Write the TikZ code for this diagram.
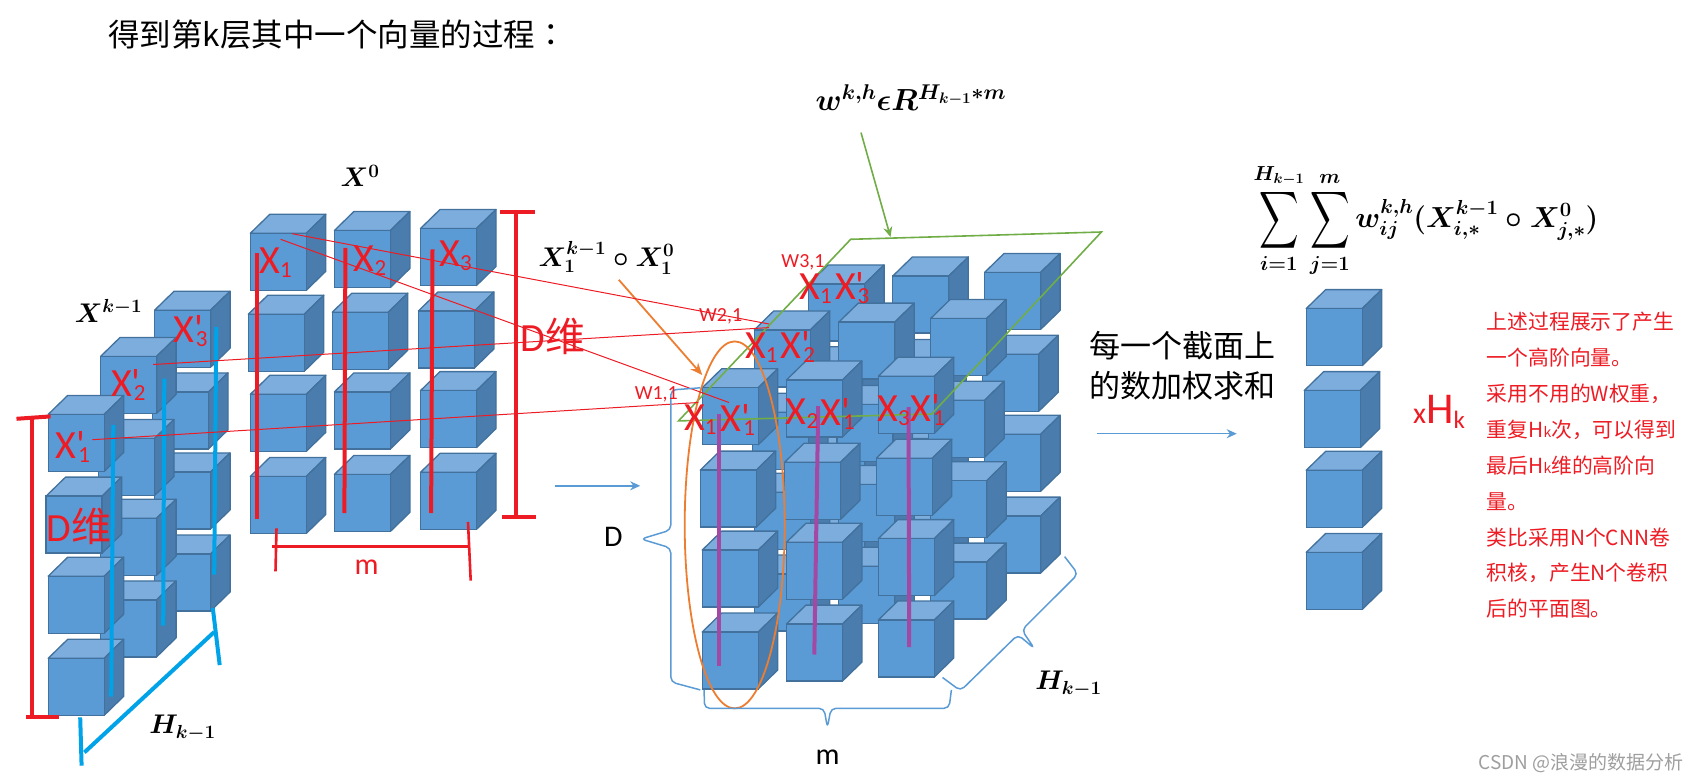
\documentclass[tikz,border=0pt]{standalone}
\usepackage{fix-cm}
\usepackage{amsmath}
\usepackage{graphicx}
\usepackage[no-math]{fontspec}
\setmainfont{Carlito}[Ligatures=TeXOff]
\newfontfamily\cjk{Noto Sans CJK SC}
\newfontfamily\cjktc{Noto Sans CJK TC}
\usepackage{xcolor}
\usepackage{tikz}
\usetikzlibrary{shapes.geometric, arrows.meta}
\definecolor{cubefront}{RGB}{91,155,213}
\definecolor{cubetop}{RGB}{124,173,221}
\definecolor{cubeside}{RGB}{74,125,174}
\definecolor{cubeedge}{RGB}{65,113,156}
\definecolor{markred}{RGB}{237,28,36}
\definecolor{markblue}{RGB}{0,162,232}
\definecolor{markpurple}{RGB}{163,73,164}
\definecolor{leafgreen}{RGB}{112,173,71}
\definecolor{carrot}{RGB}{237,125,49}
\newcommand{\sz}[1]{\fontsize{#1}{#1}\selectfont}
\newcommand{\subs}[1]{\raisebox{-4pt}{\sz{23}#1}}
\newcommand{\primed}[1]{'\kern-7pt\subs{#1}}
\newcommand{\bigsum}{\mathop{\vcenter{\hbox{\scalebox{1.1}[1.6]{$\displaystyle\sum$}}}}\limits}

\begin{document}
\begin{tikzpicture}[
  x=1pt, y=-1pt,
  cube/.style={rectangle, draw=cubeedge, line width=1.3pt, fill=cubefront, anchor=north west, inner sep=0pt, outer sep=0pt,
    minimum width=56pt, minimum height=57pt,
    append after command={\pgfextra{
      \draw[cubeedge, line width=1.3pt, line join=round, fill=cubetop] (\tikzlastnode.north west) -- ++(19.5,-19) -- ++(56,0) -- (\tikzlastnode.north east) -- cycle;
      \draw[cubeedge, line width=1.3pt, line join=round, fill=cubeside] (\tikzlastnode.north east) -- ++(19.5,-19) -- ++(0,57) -- (\tikzlastnode.south east) -- cycle;
    }}},
  redbar/.style={markred, line width=4pt},
  redtick/.style={markred, line width=2.6pt},
  bluebar/.style={markblue, line width=4pt},
  purplebar/.style={markpurple, line width=4pt},
  thinred/.style={markred, line width=1pt},
  brace/.style={cubefront, line width=1.5pt, rounded corners=5pt},
  arrow/.style={-{Stealth[length=10pt,width=9pt]}, cubefront, line width=1.5pt},
  math/.style={inner sep=0pt, text=black, font=\sz{27}\boldmath},
  xlabel/.style={inner sep=0pt, text=markred, font=\sz{40}},
  wlabel/.style={inner sep=0pt, text=markred, font=\sz{20}},
  note/.style={inner sep=0pt, anchor=north west, text=markred, align=left, font=\cjk\fontsize{20.8}{35.9}\selectfont}
]
\useasboundingbox (0,0) rectangle (1699,781);

% Title
\node[inner sep=0pt, anchor=west, font=\cjk\sz{31.5}] (title) at (108,35) {得到第k层其中一个向量的过程{\cjktc ：}};

% Previous layer, back to front
\node[cube] (pc1) at (154.6,310.2) {};
\node[cube] (pc2) at (152.5,391.9) {};
\node[cube] (pc3) at (154.6,471.9) {};
\node[cube] (pc4) at (154.6,554) {};
\node[cube] (pb1) at (100.6,356.4) {};
\node[cube] (pb2) at (98.5,438.5) {};
\node[cube] (pb3) at (100.6,518.2) {};
\node[cube] (pb4) at (100.6,599.9) {};
\node[cube] (pa1) at (48.2,414.4) {};
\node[cube] (pa2) at (46.1,496.1) {};
\node[cube] (pa3) at (48.2,576.2) {};
\node[cube] (pa4) at (48.2,658.3) {};

% Input layer
\node[cube] (xa1) at (250.3,233.3) {};
\node[cube] (xa2) at (248.3,314.2) {};
\node[cube] (xa3) at (250.3,394.3) {};
\node[cube] (xa4) at (250.3,476.4) {};
\node[cube] (xb1) at (334.4,230.5) {};
\node[cube] (xb2) at (332.3,312.2) {};
\node[cube] (xb3) at (334.4,391.9) {};
\node[cube] (xb4) at (334.4,474.4) {};
\node[cube] (xc1) at (420.5,228.5) {};
\node[cube] (xc2) at (418.4,311) {};
\node[cube] (xc3) at (420.5,390.6) {};
\node[cube] (xc4) at (420.5,472.3) {};

% Middle block, back slice
\node[cube] (ta1) at (808.6,283.9) {};
\node[cube] (ta2) at (806.6,365.8) {};
\node[cube] (ta3) at (808.6,445.9) {};
\node[cube] (ta4) at (808.6,527.6) {};
\node[cube] (tb1) at (892.8,276) {};
\node[cube] (tb2) at (890.8,358.4) {};
\node[cube] (tb3) at (892.8,438.4) {};
\node[cube] (tb4) at (892.8,520.2) {};
\node[cube] (tc1) at (984.6,272.4) {};
\node[cube] (tc2) at (982.7,354.3) {};
\node[cube] (tc3) at (984.6,434.3) {};
\node[cube] (tc4) at (984.6,516.1) {};

% Middle block, centre slice
\node[cube] (sa1) at (754.3,329.9) {};
\node[cube] (sa2) at (752.4,412.2) {};
\node[cube] (sa3) at (754.3,492.2) {};
\node[cube] (sa4) at (754.3,574) {};
\node[cube] (sb1) at (838.8,322.1) {};
\node[cube] (sb2) at (836.9,404.4) {};
\node[cube] (sb3) at (838.8,484.4) {};
\node[cube] (sb4) at (838.8,566.2) {};
\node[cube] (sc1) at (930.7,318.4) {};
\node[cube] (sc2) at (928.7,400.2) {};
\node[cube] (sc3) at (930.7,480.7) {};
\node[cube] (sc4) at (930.7,562.1) {};

% Middle block, front slice
\node[cube] (fa1) at (702.2,387.8) {};
\node[cube] (fa2) at (700.3,470.1) {};
\node[cube] (fa3) at (702.2,550.1) {};
\node[cube] (fa4) at (702.2,632) {};
\node[cube] (fb1) at (786.4,380) {};
\node[cube] (fb2) at (784.5,462.3) {};
\node[cube] (fb3) at (786.4,542.3) {};
\node[cube] (fb4) at (786.4,624.1) {};
\node[cube] (fc1) at (878.3,376.3) {};
\node[cube] (fc2) at (876.3,458.2) {};
\node[cube] (fc3) at (878.3,538.6) {};
\node[cube] (fc4) at (878.3,620) {};

% Output vector
\node[cube] (out1) at (1306.2,308.6) {};
\node[cube] (out2) at (1304.2,390.6) {};
\node[cube] (out3) at (1306.2,470.3) {};
\node[cube] (out4) at (1306.2,552.4) {};

% Red marks on the input layer
\draw[redbar] (256.5,252.6) -- (256.5,519.4);
\draw[redbar] (345.4,247.8) -- (344.4,513);
\draw[redbar] (432.5,249.4) -- (431.1,513);
\coordinate (dtop) at (515.5,212.4);
\coordinate (dbot) at (515.5,517);
\draw[redbar] (dtop) -- (dbot);
\draw[redbar] (500,212.4) -- (534.8,212.4);
\draw[redbar] (502,517) -- (535.8,517);
\draw[redtick] (272,546.4) -- (469,546.4);
\draw[redtick] (276.5,528.3) -- (275.5,571.3);
\draw[redtick] (468,522) -- (470.7,580.6);
\node[text=markred, inner sep=0pt, font=\sz{30}] (minput) at (366.7,567) {m};

% Red marks on the previous layer
\draw[redbar] (32.2,415.6) -- (32.2,716.6);
\draw[redbar] (16.5,418.8) -- (50.6,416.4);
\draw[redbar] (25.8,717.4) -- (59.2,717.4);

% Blue marks on the previous layer
\draw[bluebar] (113.3,424.9) -- (111.2,696.5);
\draw[bluebar] (164.3,378.6) -- (163.2,625.7);
\draw[bluebar] (216.3,327) -- (214.2,574.5);
\draw[bluebar] (214.2,632) -- (84.4,752.4);
\draw[bluebar] (80.2,717.4) -- (81.6,765.7);
\draw[bluebar] (212.8,608) -- (219.7,665.1);

% Green plane and its arrow
\coordinate (pla) at (678.5,420.9);
\coordinate (plb) at (850.7,239.3);
\coordinate (plc) at (1101.4,232);
\coordinate (pld) at (931.8,414);
\draw[leafgreen, line width=1.6pt] (pla) -- (plb) -- (plc) -- (pld) -- cycle;
\coordinate (pltip) at (890.5,237);
\coordinate (plfrom) at (861,132.6);
\draw[-{Stealth[length=10pt,width=9pt]}, leafgreen, line width=1.6pt] (plfrom) -- (pltip);

% Orange ellipse and its arrow
\node[draw=carrot, line width=1.8pt, ellipse, minimum width=100pt, minimum height=367pt, inner sep=0pt] (slice) at (734.7,524.9) {};
\coordinate (slfrom) at (618.8,279.8);
\coordinate (sltip) at (702.2,375);
\draw[-{Stealth[length=12pt,width=10pt]}, carrot, line width=1.8pt] (slfrom) -- (sltip);

% Purple marks on the front slice
\draw[purplebar] (719.4,414) -- (719.4,666);
\draw[purplebar] (818.2,406.2) -- (814.3,654.5);
\draw[purplebar] (908.5,407.1) -- (909.2,647);

% Thin red links
\coordinate (la) at (292,233.7);
\coordinate (lb) at (769,324);
\coordinate (lc) at (280.6,239.3);
\coordinate (ld) at (729,402.5);
\coordinate (le) at (153.2,364.5);
\coordinate (lf) at (769,327.6);
\coordinate (lg) at (92.3,439.7);
\coordinate (lh) at (698.4,402.5);
\draw[thinred] (la) -- (lb);
\draw[thinred] (lc) -- (ld);
\draw[thinred] (le) -- (lf);
\draw[thinred] (lg) -- (lh);

% Braces
\draw[brace] (700.3,387.8) -- (670.8,390) -- (670.8,530) -- (641,539) -- (670.8,548) -- (670.8,682) -- (700.3,689.9);
\draw[brace] (704.1,689.9) -- (704.5,708.3) -- (824,708.3) -- (827.4,727.6) -- (831,708.3) -- (949,708.3) -- (951.4,689.9);
\draw[brace] (942.5,677.5) -- (960.5,690.8) -- (1017.9,634.7) -- (1034.4,648.5) -- (1021.8,630) -- (1078,574) -- (1064.6,556.6);

% Blue arrows
\coordinate (ara) at (554.9,485.8);
\coordinate (arb) at (640.2,485.8);
\coordinate (arc) at (1097,433.7);
\coordinate (ard) at (1236.7,433.7);
\draw[arrow] (ara) -- (arb);
\draw[arrow] (arc) -- (ard);

% Red labels
\node[xlabel] (xone) at (275.5,262.7) {X\subs{1}};
\node[xlabel] (xtwo) at (370,261) {X\subs{2}};
\node[xlabel] (xthree) at (455.5,256) {X\subs{3}};
\node[xlabel] (pthree) at (190.4,331) {X\primed{3}};
\node[xlabel] (ptwo) at (128.3,385.4) {X\primed{2}};
\node[xlabel] (pone) at (72.8,446.6) {X\primed{1}};
\node[xlabel] (dleft) at (79,526) {D{\cjk 维}};
\node[xlabel] (dmid) at (553,336) {D{\cjk 维}};

\node[xlabel] (aa) at (700.3,419.5) {X\subs{1}};
\node[xlabel] (ab) at (737.8,419.5) {X\primed{1}};
\node[xlabel] (ba) at (802,413.6) {X\subs{2}};
\node[xlabel] (bb) at (837.7,413.6) {X\primed{1}};
\node[xlabel] (ca) at (893.6,410.3) {X\subs{3}};
\node[xlabel] (cb) at (927.6,410.3) {X\primed{1}};
\node[xlabel] (da) at (761.2,347.4) {X\subs{1}};
\node[xlabel] (db) at (797.9,347.4) {X\primed{2}};
\node[xlabel] (ea) at (815.5,288.5) {X\subs{1}};
\node[xlabel] (eb) at (852.2,288.5) {X\primed{3}};

\node[wlabel] (wone) at (656.3,394.3) {W1,1};
\node[wlabel] (wtwo) at (720.6,316) {W2,1};
\node[wlabel] (wthree) at (803,262) {W3,1};

% Formulas
\node[math] (xzero) at (360,176) {$X^0$};
\node[math] (xprev) at (108.5,311) {$X^{k-1}$};
\node[math] (hleft) at (182.5,728) {$H_{k-1}$};
\node[math] (hadamard) at (606.5,257.7) {$X_1^{k-1}\circ X_1^0$};
\node[math, font=\sz{30.5}\boldmath] (wdef) at (910.8,98) {$w^{k,h}\epsilon R^{H_{k-1}*m}$};
\node[math] (hmid) at (1068.5,684) {$H_{k-1}$};
\node[math, font=\sz{29}\boldmath] (total) at (1426,220.4) {$\bigsum_{i=1}^{H_{k-1}}\bigsum_{j=1}^{m} w_{ij}^{k,h}(X_{i,*}^{k-1}\circ X_{j,*}^{0})$};

% Other text
\node[inner sep=0pt, font=\sz{30}] (dmark) at (613.4,536.8) {D};
\node[inner sep=0pt, font=\sz{30}] (mmark) at (827.7,757) {m};
\node[inner sep=0pt, anchor=north west, align=left, font=\cjk\fontsize{31}{40}\selectfont] (sumtext) at (1089,331) {每一个截面上\\的数加权求和};
\node[inner sep=0pt, text=markred] (timesh) at (1439,411.6) {{\sz{30}x}{\sz{44}H}\raisebox{-5pt}{\sz{25}k}};
\node[note] (notes) at (1486.6,312) {上述过程展示了产生\\一个高阶向量。\\采用不用的W权重，\\重复H{\sz{14}k}次，可以得到\\最后H{\sz{14}k}维的高阶向\\量。\\类比采用N个CNN卷\\积核，产生N个卷积\\后的平面图。};
\node[inner sep=0pt, text=black!38, anchor=east, font=\cjk\sz{19}] (mark) at (1684,763) {CSDN @浪漫的数据分析};

\end{tikzpicture}
\end{document}
